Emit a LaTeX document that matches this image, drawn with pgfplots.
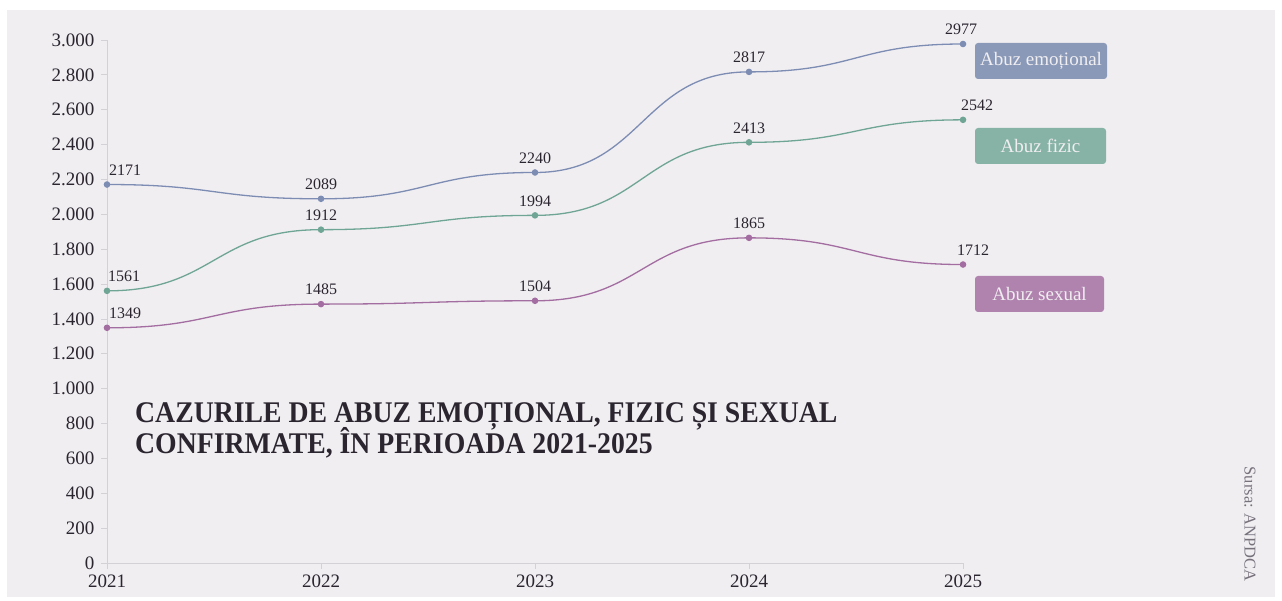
\documentclass[border=0pt]{standalone}
\usepackage{fontspec}
\setmainfont{Liberation Serif}
\newfontfamily\titlefont[FakeStretch=0.925]{Liberation Serif}
\usepackage{pgfplots}
\pgfplotsset{compat=1.18}
\usepackage{pgfplotstable}

\definecolor{bg}{HTML}{F0EEF1}
\definecolor{emo}{HTML}{7D8CB3}
\definecolor{fiz}{HTML}{6FA595}
\definecolor{sex}{HTML}{A36DA1}
\definecolor{emobox}{HTML}{8A99B8}
\definecolor{fizbox}{HTML}{87B3A6}
\definecolor{sexbox}{HTML}{B083AF}
\definecolor{txt}{HTML}{2B2530}
\definecolor{axisgray}{HTML}{D3D0D6}
\definecolor{srcgray}{HTML}{77717C}

\makeatletter
\def\pgfplothandlerbumpx{%
  \def\pgf@plotstreamstart{%
    \global\let\pgf@plotstreampoint=\bump@first
    \global\let\pgf@plotstreamspecial=\pgfutil@gobble
    \global\let\pgf@plotstreamend=\relax
  }%
}
\def\bump@first#1{%
  \pgf@process{#1}%
  \xdef\bump@lastx{\the\pgf@x}\xdef\bump@lasty{\the\pgf@y}%
  \pgf@plot@first@action{\pgfqpoint{\bump@lastx}{\bump@lasty}}%
  \global\let\pgf@plotstreampoint=\bump@next
}
\def\bump@next#1{%
  \pgf@process{#1}%
  \edef\bump@nx{\the\pgf@x}\edef\bump@ny{\the\pgf@y}%
  \pgf@xb=\bump@lastx\relax
  \advance\pgf@xb by \bump@nx\relax
  \pgf@xb=0.5\pgf@xb
  \edef\bump@mx{\the\pgf@xb}%
  \pgfpathcurveto{\pgfqpoint{\bump@mx}{\bump@lasty}}{\pgfqpoint{\bump@mx}{\bump@ny}}{\pgfqpoint{\bump@nx}{\bump@ny}}%
  \xdef\bump@lastx{\bump@nx}\xdef\bump@lasty{\bump@ny}%
}
\tikzset{bumpx/.code={\let\tikz@plot@handler=\pgfplothandlerbumpx}}
\makeatother

\pgfplotstableread{
x y dx
2021 2171 18
2022 2089 0
2023 2240 0
2024 2817 0
2025 2977 -2
}\emotab
\pgfplotstableread{
x y dx
2021 1561 17
2022 1912 0
2023 1994 0
2024 2413 0
2025 2542 14
}\fiztab
\pgfplotstableread{
x y dx
2021 1349 18
2022 1485 0
2023 1504 0
2024 1865 0
2025 1712 10
}\sextab

\begin{document}
\begin{tikzpicture}[x=1pt,y=1pt]
\fill[white] (0,0) rectangle (1282,601);
\fill[bg] (7,4) rectangle (1275,591);
\begin{axis}[
  at={(107pt,38pt)}, anchor=south west,
  scale only axis, width=856pt, height=523pt,
  xmin=2021, xmax=2025, ymin=0, ymax=3000,
  axis x line=bottom, axis y line=left,
  axis line style={-, axisgray, line width=0.8pt},
  tick style={axisgray, line width=0.8pt},
  tick align=outside, major tick length=6pt,
  xtick={2021,2022,2023,2024,2025},
  ytick={0,200,...,3000},
  xticklabel style={/pgf/number format/1000 sep={}, yshift=-2pt},
  yticklabel style={/pgf/number format/1000 sep={.}, xshift=-3pt},
  /pgf/number format/assume math mode=true,
  tick label style={font=\fontsize{19}{19}\selectfont, text=txt},
  clip=false,
  nodes near coords,
  point meta=explicit,
  visualization depends on={\thisrow{dx} \as \dx},
  every node near coord/.append style={font=\fontsize{16}{16}\selectfont, text=txt, anchor=south, xshift=\dx pt, yshift=5pt, /pgf/number format/1000 sep={}},
]
\addplot[bumpx, emo, line width=1.3pt, mark=*, mark size=2.6pt, mark options={fill=emo, draw=emo}] table[x=x, y=y, meta=y] {\emotab};
\addplot[bumpx, fiz, line width=1.3pt, mark=*, mark size=2.6pt, mark options={fill=fiz, draw=fiz}] table[x=x, y=y, meta=y] {\fiztab};
\addplot[bumpx, sex, line width=1.3pt, mark=*, mark size=2.6pt, mark options={fill=sex, draw=sex}] table[x=x, y=y, meta=y] {\sextab};
\end{axis}
\node[fill=emobox, rounded corners=3pt, minimum width=132pt, minimum height=36pt, text=bg, font=\fontsize{19}{19}\selectfont] at (1041,540) {Abuz emoțional};
\node[fill=fizbox, rounded corners=3pt, minimum width=131pt, minimum height=36pt, text=bg, font=\fontsize{19}{19}\selectfont] at (1040.5,455) {Abuz fizic};
\node[fill=sexbox, rounded corners=3pt, minimum width=129pt, minimum height=36pt, text=bg, font=\fontsize{19}{19}\selectfont] at (1039.5,307) {Abuz sexual};
\node[anchor=base west, inner sep=0pt, text=txt, font=\titlefont\bfseries\fontsize{30}{30}\selectfont] at (135,178) {CAZURILE DE ABUZ EMOȚIONAL, FIZIC ȘI SEXUAL};
\node[anchor=base west, inner sep=0pt, text=txt, font=\titlefont\bfseries\fontsize{30}{30}\selectfont] at (135,147) {CONFIRMATE, ÎN PERIOADA 2021-2025};
\node[rotate=-90, text=srcgray, font=\fontsize{16.5}{16.5}\selectfont, inner sep=0pt] at (1250,77) {Sursa: ANPDCA};
\end{tikzpicture}
\end{document}
